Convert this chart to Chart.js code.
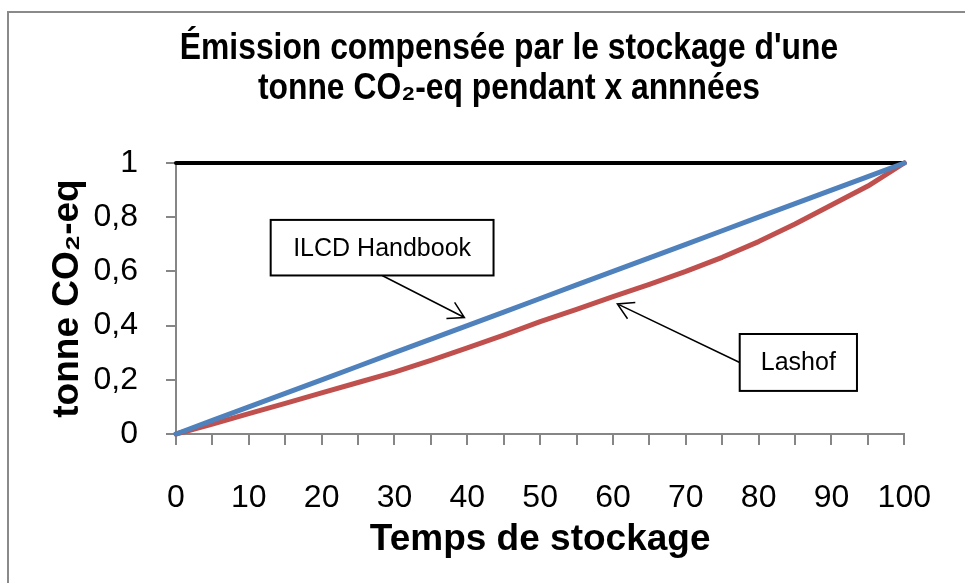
<!DOCTYPE html>
<html>
<head>
<meta charset="utf-8">
<script src="https://cdn.jsdelivr.net/npm/chart.js@4.4.0/dist/chart.umd.min.js"></script>
<style>
  html, body { margin: 0; padding: 0; background: #ffffff; }
  #wrap { position: relative; width: 965px; height: 583px; overflow: hidden; }
  #frame { position: absolute; left: 7px; top: 11px; width: 1000px; height: 700px;
           border-left: 2px solid #8a8a8a; border-top: 2px solid #8a8a8a; }
  #c { position: absolute; left: 0; top: 0; }
</style>
</head>
<body>
<div id="wrap">
  <div id="frame"></div>
  <canvas id="c" width="965" height="583"></canvas>
</div>
<script>
// ---- data ----
const years = [0, 5, 10, 15, 20, 25, 30, 35, 40, 45, 50, 55, 60, 65, 70, 75, 80, 85, 90, 95, 100];
const ilcdValues = [0, 0.05, 0.10, 0.15, 0.20, 0.25, 0.30, 0.35, 0.40, 0.45, 0.50, 0.55, 0.60, 0.65, 0.70, 0.75, 0.80, 0.85, 0.90, 0.95, 1.0];
const lashofValues = [0, 0.037, 0.075, 0.113, 0.152, 0.19, 0.228, 0.272, 0.318, 0.365, 0.415, 0.46, 0.507, 0.552, 0.60, 0.652, 0.71, 0.775, 0.845, 0.915, 1.0];
const refYears = [0, 100];
const refValues = [1, 1];
const xTickLabels = ['0', '10', '20', '30', '40', '50', '60', '70', '80', '90', '100'];
const yTickLabels = ['0', '0,2', '0,4', '0,6', '0,8', '1'];
const titleLines = ["Émission compensée par le stockage d'une", "tonne CO₂-eq pendant x annnées"];
const xTitle = 'Temps de stockage';
const yTitle = 'tonne CO₂-eq';

// annotation callouts (data coordinates)
const callouts = [
  { text: 'ILCD Handbook', box: [13, 0.79, 43.6, 0.585], from: [28.3, 0.585], to: [39.6, 0.43] },
  { text: 'Lashof', box: [77.4, 0.369, 93.5, 0.159], from: [77.4, 0.264], to: [60.6, 0.48] }
];

const toPts = (xs, ys) => xs.map((x, i) => ({ x: x, y: ys[i] }));

const FONT = "'Liberation Sans', Arial, sans-serif";
Chart.defaults.color = '#000';
Chart.defaults.font.family = FONT;

const titlePlugin = {
  id: 'mainTitle',
  afterDraw(chart) {
    const ctx = chart.ctx;
    ctx.save();
    ctx.fillStyle = '#000';
    ctx.font = "bold 37px " + FONT;
    ctx.textAlign = 'center';
    ctx.textBaseline = 'middle';
    const sx = 0.86;
    ctx.translate(509, 0);
    ctx.scale(sx, 1);
    titleLines.forEach((t, i) => ctx.fillText(t, 0, 49 + i * 40));
    ctx.restore();
  }
};

const calloutPlugin = {
  id: 'callouts',
  afterDatasetsDraw(chart) {
    const ctx = chart.ctx;
    const xs = chart.scales.x, ys = chart.scales.y;
    ctx.save();
    callouts.forEach(c => {
      const x1 = xs.getPixelForValue(c.box[0]), y1 = ys.getPixelForValue(c.box[1]);
      const x2 = xs.getPixelForValue(c.box[2]), y2 = ys.getPixelForValue(c.box[3]);
      const fx = xs.getPixelForValue(c.from[0]), fy = ys.getPixelForValue(c.from[1]);
      const tx = xs.getPixelForValue(c.to[0]), ty = ys.getPixelForValue(c.to[1]);
      ctx.strokeStyle = '#000';
      ctx.lineWidth = 1.5;
      ctx.beginPath();
      ctx.moveTo(fx, fy);
      ctx.lineTo(tx, ty);
      const ang = Math.atan2(ty - fy, tx - fx);
      const L = 18, a = Math.PI / 6;
      ctx.moveTo(tx - L * Math.cos(ang - a), ty - L * Math.sin(ang - a));
      ctx.lineTo(tx, ty);
      ctx.lineTo(tx - L * Math.cos(ang + a), ty - L * Math.sin(ang + a));
      ctx.stroke();
      ctx.fillStyle = '#fff';
      ctx.fillRect(x1, y1, x2 - x1, y2 - y1);
      ctx.lineWidth = 2;
      ctx.strokeRect(x1, y1, x2 - x1, y2 - y1);
      ctx.fillStyle = '#000';
      ctx.font = "25px " + FONT;
      ctx.textAlign = 'center';
      ctx.textBaseline = 'middle';
      ctx.fillText(c.text, (x1 + x2) / 2, (y1 + y2) / 2 + 1);
    });
    ctx.restore();
  }
};

new Chart(document.getElementById('c'), {
  type: 'line',
  data: {
    datasets: [
      { label: 'ILCD Handbook', data: toPts(years, ilcdValues), borderColor: '#4F81BD', borderWidth: 5, order: 1, clip: false },
      { label: 'Lashof', data: toPts(years, lashofValues), borderColor: '#C0504D', borderWidth: 5, order: 2, clip: false },
      { label: 'Référence', data: toPts(refYears, refValues), borderColor: '#000000', borderWidth: 4, order: 3, clip: false }
    ]
  },
  options: {
    responsive: false,
    animation: false,
    events: [],
    layout: { padding: { left: 0, right: 51, top: 163, bottom: 0 } },
    elements: {
      point: { radius: 0 },
      line: { tension: 0, fill: false, borderJoinStyle: 'round', borderCapStyle: 'round' }
    },
    plugins: {
      legend: { display: false },
      tooltip: { enabled: false },
      title: { display: false }
    },
    scales: {
      x: {
        type: 'linear',
        min: 0, max: 100,
        afterFit: s => { s.height = 149; },
        border: { display: true, color: '#868686', width: 2 },
        grid: { drawOnChartArea: false, drawTicks: true, tickLength: 11, color: '#868686', lineWidth: 2 },
        ticks: {
          stepSize: 5,
          maxRotation: 0,
          autoSkip: false,
          padding: 34,
          color: '#000',
          font: { family: FONT, size: 32 },
          callback: v => (v % 10 === 0 ? xTickLabels[v / 10] : '')
        },
        title: {
          display: true, text: xTitle, color: '#000',
          font: { family: FONT, size: 37, weight: 'bold' },
          padding: { top: 0, bottom: 21 }
        }
      },
      y: {
        min: 0, max: 1,
        afterFit: s => { s.width = 176; },
        border: { display: true, color: '#868686', width: 2 },
        grid: { drawOnChartArea: false, drawTicks: true, tickLength: 10, color: '#868686', lineWidth: 2 },
        ticks: {
          stepSize: 0.2,
          padding: 28,
          color: '#000',
          font: { family: FONT, size: 32 },
          callback: v => yTickLabels[Math.round(v * 5)]
        },
        title: {
          display: true, text: yTitle, color: '#000',
          font: { family: FONT, size: 37, weight: 'bold' },
          padding: { top: 46, bottom: 0 }
        }
      }
    }
  },
  plugins: [calloutPlugin, titlePlugin]
});
</script>
</body>
</html>
